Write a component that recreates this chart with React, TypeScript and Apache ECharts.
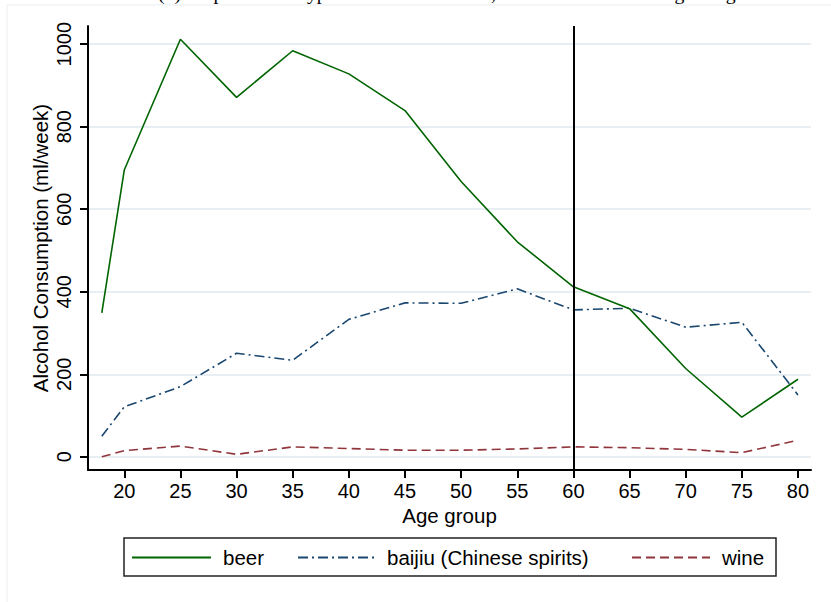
import React, { useEffect, useRef } from 'react'
import * as echarts from 'echarts'

// age group midpoints
const ages = [18, 20, 25, 30, 35, 40, 45, 50, 55, 60, 65, 70, 75, 80]
const beer = [349, 695, 1012, 871, 984, 928, 839, 667, 521, 412, 359, 214, 96, 188]
const baijiu = [50, 121, 170, 251, 234, 333, 373, 372, 407, 356, 360, 314, 326, 150]
const wine = [0, 15, 26, 6, 24, 20, 16, 16, 19, 24, 22, 18, 10, 40]

const seriesNames = ['beer', 'baijiu (Chinese spirits)', 'wine']
const xTicks = [20, 25, 30, 35, 40, 45, 50, 55, 60, 65, 70, 75, 80]
const yTicks = [0, 200, 400, 600, 800, 1000]
const cutoffAge = 60

const FONT = 'Liberation Sans, Arial, sans-serif'
const GREEN = '#006400'
const NAVY = '#1a476f'
const MAROON = '#90353b'

const pairs = (ys: number[]) => ages.map((a, i) => [a, ys[i]])

const App: React.FC = () => {
  const chartRef = useRef<HTMLDivElement>(null)

  useEffect(() => {
    if (!chartRef.current) return
    const chart = echarts.init(chartRef.current, undefined, { renderer: 'svg' })

    const legendY = 557.5
    const option: echarts.EChartsOption = {
      animation: false,
      backgroundColor: '#fff',
      grid: { left: 88, top: 26, width: 723, height: 444, containLabel: false },
      xAxis: {
        type: 'value',
        min: 16.77,
        max: 81.16,
        name: 'Age group',
        nameLocation: 'middle',
        nameGap: 35,
        nameMoveOverlap: false,
        nameTextStyle: { fontFamily: FONT, fontSize: 20.5, color: '#000' },
        axisLine: { show: true, onZero: false, lineStyle: { color: '#000', width: 2 } },
        axisTick: { show: true, length: 8, customValues: xTicks, lineStyle: { color: '#000', width: 2 } },
        axisLabel: { customValues: xTicks, fontFamily: FONT, fontSize: 20, color: '#000', margin: 11 },
        splitLine: { show: false }
      } as any,
      yAxis: {
        type: 'value',
        min: -32,
        max: 1044,
        name: 'Alcohol Consumption (ml/week)',
        nameLocation: 'middle',
        nameGap: 37,
        nameMoveOverlap: false,
        nameTextStyle: { fontFamily: FONT, fontSize: 20.5, color: '#000' },
        axisLine: { show: true, onZero: false, lineStyle: { color: '#000', width: 2 } },
        axisTick: { show: true, length: 8, customValues: yTicks, lineStyle: { color: '#000', width: 2 } },
        axisLabel: {
          customValues: yTicks,
          rotate: 90,
          fontFamily: FONT,
          fontSize: 20,
          color: '#000',
          margin: 14,
          formatter: (v: number) => String(v)
        },
        splitLine: { show: true, lineStyle: { color: '#e8eff2', width: 2 } }
      } as any,
      series: [
        {
          name: seriesNames[0],
          type: 'line',
          data: pairs(beer),
          showSymbol: false,
          lineStyle: { color: GREEN, width: 1.6 },
          itemStyle: { color: GREEN },
          z: 4,
          markLine: {
            silent: true,
            symbol: ['none', 'none'],
            label: { show: false },
            lineStyle: { color: '#000', width: 2, type: 'solid' },
            data: [{ xAxis: cutoffAge }]
          }
        },
        {
          name: seriesNames[1],
          type: 'line',
          data: pairs(baijiu),
          showSymbol: false,
          lineStyle: { color: NAVY, width: 1.6, type: [10, 4, 2, 4] },
          itemStyle: { color: NAVY },
          z: 3
        },
        {
          name: seriesNames[2],
          type: 'line',
          data: pairs(wine),
          showSymbol: false,
          lineStyle: { color: MAROON, width: 1.6, type: [9, 5] },
          itemStyle: { color: MAROON },
          z: 2
        }
      ],
      graphic: [
        {
          type: 'text',
          left: 158,
          top: -17,
          style: {
            text: '(b) Proportion of hypertensive individuals, based on different drug dosage rules',
            fontFamily: 'Liberation Serif, Times New Roman, serif',
            fontSize: 19.8,
            fill: '#000'
          }
        },
        {
          type: 'rect',
          shape: { x: 7, y: 5, width: 840, height: 620 },
          style: { fill: 'none', stroke: '#e9eef0', lineWidth: 1 },
          silent: true
        },
        {
          type: 'rect',
          shape: { x: 124, y: 538, width: 652, height: 38 },
          style: { fill: '#fff', stroke: '#222', lineWidth: 1.5 }
        },
        {
          type: 'line',
          shape: { x1: 132, y1: legendY, x2: 211, y2: legendY },
          style: { stroke: GREEN, lineWidth: 2 }
        },
        {
          type: 'text',
          x: 223,
          y: legendY,
          style: { text: seriesNames[0], fontFamily: FONT, fontSize: 20.5, fill: '#000', verticalAlign: 'middle' }
        },
        {
          type: 'line',
          shape: { x1: 298, y1: legendY, x2: 378, y2: legendY },
          style: { stroke: NAVY, lineWidth: 2, lineDash: [10, 4, 2, 4] }
        },
        {
          type: 'text',
          x: 387,
          y: legendY,
          style: { text: seriesNames[1], fontFamily: FONT, fontSize: 20.5, fill: '#000', verticalAlign: 'middle' }
        },
        {
          type: 'line',
          shape: { x1: 632, y1: legendY, x2: 710, y2: legendY },
          style: { stroke: MAROON, lineWidth: 2, lineDash: [9, 5] }
        },
        {
          type: 'text',
          x: 722,
          y: legendY,
          style: { text: seriesNames[2], fontFamily: FONT, fontSize: 20.5, fill: '#000', verticalAlign: 'middle' }
        }
      ]
    }

    chart.setOption(option)
    return () => {
      chart.dispose()
    }
  }, [])

  return (
    <div
      ref={chartRef}
      style={{ position: 'absolute', left: 0, top: 0, width: '831px', height: '602px' }}
    />
  )
}

export default App
